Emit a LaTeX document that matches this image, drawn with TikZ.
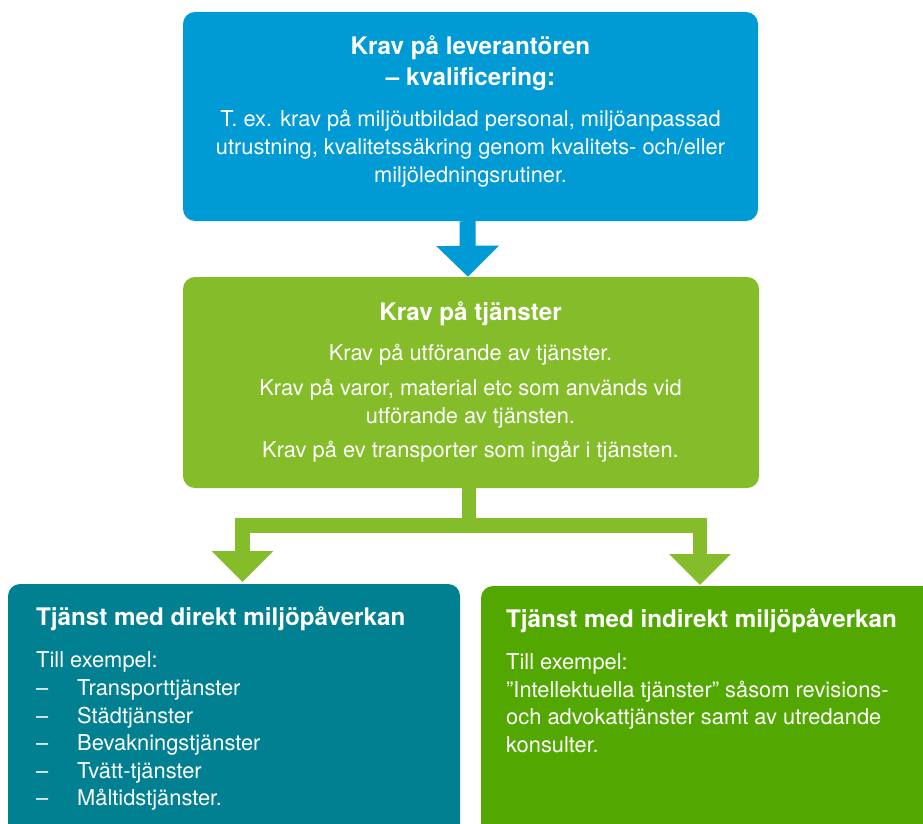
\documentclass[tikz,border=0pt]{standalone}
\usepackage{fontspec}
\setmainfont{TeX Gyre Heros}
\usetikzlibrary{arrows.meta}
\definecolor{cblue}{RGB}{0,154,212}
\definecolor{cgreen}{RGB}{132,189,41}
\definecolor{cteal}{RGB}{0,128,145}
\definecolor{cdgreen}{RGB}{82,168,0}
\tikzset{
  box/.style={draw=none, rounded corners=12pt, inner sep=0pt},
  ttl/.style={font=\fontsize{24.2}{30}\selectfont\bfseries, text=white, inner sep=0pt, anchor=base},
  bdy/.style={font=\fontsize{21.85}{27}\selectfont, text=white, inner sep=0pt, anchor=base},
  ttlw/.style={ttl, anchor=base west},
  bdyw/.style={bdy, anchor=base west},
  barrow/.style={draw=cblue, line width=16pt, -{Triangle[width=61pt,length=31pt]}},
  garrow/.style={draw=cgreen, line width=14.5pt, line join=miter, -{Triangle[width=60pt,length=31pt]}},
}
\begin{document}
\begin{tikzpicture}[x=1pt,y=-1pt]
\clip (0,0) rectangle (923,824);
\fill[white] (0,0) rectangle (923,824);
% boxes
\node[box, fill=cblue, minimum width=575pt, minimum height=209pt] (top) at (470.5,116.5) {};
\node[box, fill=cgreen, minimum width=576pt, minimum height=211pt] (mid) at (471,382.5) {};
\node[box, fill=cteal, minimum width=452pt, minimum height=290pt] (left) at (234,729) {};
\node[box, fill=cdgreen, minimum width=480pt, minimum height=290pt] (right) at (721,731) {};
% top text
\node[ttl] (t1) at (470.5,55) {Krav på leverantören};
\node[ttl] (t2) at (470.5,86) {– kvalificering:};
\node[bdy] (t3) at (470.5,127) {T. ex. krav på miljöutbildad personal, miljöanpassad};
\node[bdy] (t4) at (470.5,154) {utrustning, kvalitetssäkring genom kvalitets- och/eller};
\node[bdy] (t5) at (470.5,182) {miljöledningsrutiner.};
% middle text
\node[ttl] (m1) at (470.5,320) {Krav på tjänster};
\node[bdy] (m2) at (470.5,360) {Krav på utförande av tjänster.};
\node[bdy] (m3) at (470.5,395) {Krav på varor, material etc som används vid};
\node[bdy] (m4) at (470.5,423) {utförande av tjänsten.};
\node[bdy] (m5) at (470.5,457) {Krav på ev transporter som ingår i tjänsten.};
% left text
\node[ttlw] (l1) at (36,625) {Tjänst med direkt miljöpåverkan};
\node[bdyw] (l2) at (36,667) {Till exempel:};
\foreach \y/\txt [count=\i] in {695/Transporttjänster, 723/Städtjänster, 750/Bevakningstjänster, 778/Tvätt-tjänster, 805/Måltidstjänster.}{
  \node[bdyw] (ld\i) at (36,\y) {–};
  \node[bdyw] (li\i) at (77,\y) {\txt};
}
% right text
\node[ttlw] (r1) at (506,627) {Tjänst med indirekt miljöpåverkan};
\node[bdyw] (r2) at (506,669) {Till exempel:};
\node[bdyw] (r3) at (506,697) {"Intellektuella tjänster” såsom revisions-};
\node[bdyw] (r4) at (506,724) {och advokattjänster samt av utredande};
\node[bdyw] (r5) at (506,752) {konsulter.};
% connectors
\draw[barrow] ([xshift=-3pt]top.south) -- ([xshift=-3pt]mid.north);
\coordinate (j) at (469,525.5);
\coordinate (lt) at (242.5,582);
\coordinate (rt) at (700,585);
\draw[garrow] (mid.south -| j) -- (j) -| (lt);
\draw[garrow] (j) -| (rt);
\end{tikzpicture}
\end{document}
